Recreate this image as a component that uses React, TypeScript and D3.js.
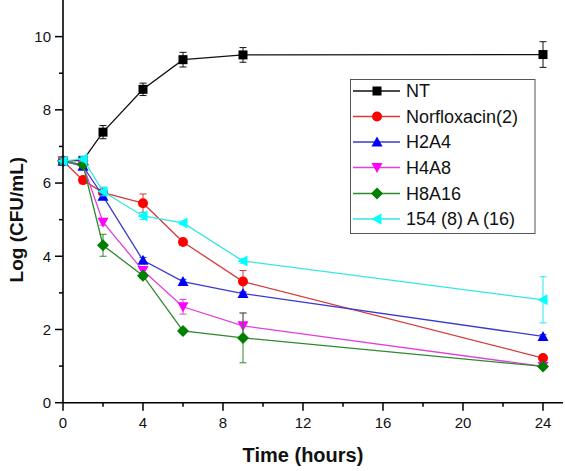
import React from "react";
import * as d3 from "d3";

const times = [0, 1, 2, 4, 6, 9, 24];
const seriesNames = ["NT", "Norfloxacin(2)", "H2A4", "H4A8", "H8A16", "154 (8) A (16)"];
const ntValues = [6.6, 6.62, 7.39, 8.56, 9.37, 9.5, 9.51];
const ntErrors = [0, 0.05, 0.18, 0.17, 0.2, 0.2, 0.35];
const norValues = [6.6, 6.08, 5.74, 5.45, 4.39, 3.31, 1.22];
const norErrors = [0, 0.05, 0.08, 0.25, 0.08, 0.3, 0.05];
const h2a4Values = [6.6, 6.46, 5.64, 3.89, 3.31, 2.98, 1.81];
const h2a4Errors = [0, 0.05, 0.08, 0.08, 0.06, 0.05, 0.05];
const h4a8Values = [6.6, 6.5, 4.93, 3.61, 2.62, 2.1, 0.99];
const h4a8Errors = [0, 0.05, 0.08, 0.08, 0.2, 0.35, 0.04];
const h8a16Values = [6.6, 6.5, 4.3, 3.47, 1.96, 1.77, 0.99];
const h8a16Errors = [0, 0.05, 0.3, 0.08, 0.05, 0.68, 0.04];
const cyanValues = [6.6, 6.66, 5.77, 5.1, 4.91, 3.87, 2.81];
const cyanErrors = [0.08, 0.06, 0.12, 0.1, 0.05, 0.06, 0.63];
const xTicks = [0, 4, 8, 12, 16, 20, 24];
const xMinor = [2, 6, 10, 14, 18, 22];
const yTicks = [0, 2, 4, 6, 8, 10];
const yMinor = [1, 3, 5, 7, 9];

const colors = ["#000000", "#ff0000", "#0000ff", "#ff00ff", "#007f00", "#00ffff"];
const lineColors = ["#111111", "#d63a3a", "#3a3acc", "#e040e0", "#2e8a2e", "#33e6e6"];
const shapes = ["square", "circle", "triangle", "triangleDown", "diamond", "triangleLeft"];

const allValues = [ntValues, norValues, h2a4Values, h4a8Values, h8a16Values, cyanValues];
const allErrors = [ntErrors, norErrors, h2a4Errors, h4a8Errors, h8a16Errors, cyanErrors];

function Marker({ shape, x, y, color }: { shape: string; x: number; y: number; color: string }) {
  if (shape === "square") return <rect x={x - 4.5} y={y - 4.5} width={9} height={9} fill={color} />;
  if (shape === "circle") return <circle cx={x} cy={y} r={5} fill={color} />;
  if (shape === "triangle")
    return <path d={`M${x},${y - 5.5}L${x + 5.5},${y + 4.5}L${x - 5.5},${y + 4.5}Z`} fill={color} />;
  if (shape === "triangleDown")
    return <path d={`M${x},${y + 5.5}L${x + 5.5},${y - 4.5}L${x - 5.5},${y - 4.5}Z`} fill={color} />;
  if (shape === "diamond")
    return <path d={`M${x},${y - 6}L${x + 6},${y}L${x},${y + 6}L${x - 6},${y}Z`} fill={color} />;
  return <path d={`M${x - 5.5},${y}L${x + 4.5},${y - 5.5}L${x + 4.5},${y + 5.5}Z`} fill={color} />;
}

export default function App() {
  const W = 565, H = 471;
  const x = d3.scaleLinear().domain([0, 25]).range([63, 563]);
  const y = d3.scaleLinear().domain([0, 11]).range([402.7, 0]);
  const line = d3.line<number>().x((_, i) => x(times[i])).y((v) => y(v));
  const font = "Arial, 'Liberation Sans', sans-serif";
  const legendRows = [91, 116.5, 142, 167.5, 193.5, 219];
  return (
    <svg width={W} height={H} style={{ position: "absolute", left: 0, top: 0, background: "#fff" }} fontFamily={font}>
      {allValues.map((vals, si) => (
        <g key={si}>
          <path d={line(vals) || ""} fill="none" stroke={lineColors[si]} strokeWidth={1.3} />
          {vals.map((v, i) => {
            const e = allErrors[si][i];
            const cx = x(times[i]);
            return (
              <g key={i} stroke={lineColors[si]} strokeWidth={1}>
                <line x1={cx} x2={cx} y1={y(v + e)} y2={y(v - e)} />
                <line x1={cx - 3.5} x2={cx + 3.5} y1={y(v + e)} y2={y(v + e)} />
                <line x1={cx - 3.5} x2={cx + 3.5} y1={y(v - e)} y2={y(v - e)} />
              </g>
            );
          })}
          {vals.map((v, i) => (
            <Marker key={"m" + i} shape={shapes[si]} x={x(times[i])} y={y(v)} color={colors[si]} />
          ))}
        </g>
      ))}
      {/* axes */}
      <line x1={x(0)} x2={x(0)} y1={y(0)} y2={y(11)} stroke="#000" strokeWidth={1.6} />
      <line x1={x(0)} x2={x(25)} y1={y(0)} y2={y(0)} stroke="#000" strokeWidth={1.6} />
      {yTicks.map((t) => (
        <g key={"yt" + t}>
          <line x1={x(0) - 8} x2={x(0)} y1={y(t)} y2={y(t)} stroke="#000" strokeWidth={1.5} />
          <text x={x(0) - 12} y={y(t)} dy="0.35em" textAnchor="end" fontSize={15} fill="#111">{t}</text>
        </g>
      ))}
      {yMinor.map((t) => (
        <line key={"ym" + t} x1={x(0) - 4} x2={x(0)} y1={y(t)} y2={y(t)} stroke="#000" strokeWidth={1.5} />
      ))}
      {xTicks.map((t) => (
        <g key={"xt" + t}>
          <line x1={x(t)} x2={x(t)} y1={y(0)} y2={y(0) + 8} stroke="#000" strokeWidth={1.5} />
          <text x={x(t)} y={y(0) + 25} textAnchor="middle" fontSize={15} fill="#111">{t}</text>
        </g>
      ))}
      {xMinor.map((t) => (
        <line key={"xm" + t} x1={x(t)} x2={x(t)} y1={y(0)} y2={y(0) + 4} stroke="#000" strokeWidth={1.5} />
      ))}
      <text x={x(12)} y={462} textAnchor="middle" fontSize={20} fontWeight="bold" fill="#111">Time (hours)</text>
      <text transform={`translate(23,${y(5)}) rotate(-90)`} textAnchor="middle" fontSize={19} fontWeight="bold" fill="#111">Log (CFU/mL)</text>
      {/* legend */}
      <rect x={350.5} y={79.5} width={184.5} height={154} fill="#fff" stroke="#555" strokeWidth={1} />
      {seriesNames.map((n, i) => (
        <g key={"lg" + i}>
          <line x1={353} x2={400} y1={legendRows[i]} y2={legendRows[i]} stroke={lineColors[i]} strokeWidth={1.3} />
          <Marker shape={shapes[i]} x={377} y={legendRows[i]} color={colors[i]} />
          <text x={406} y={legendRows[i]} dy="0.35em" fontSize={18} fill="#111">{n}</text>
        </g>
      ))}
    </svg>
  );
}
